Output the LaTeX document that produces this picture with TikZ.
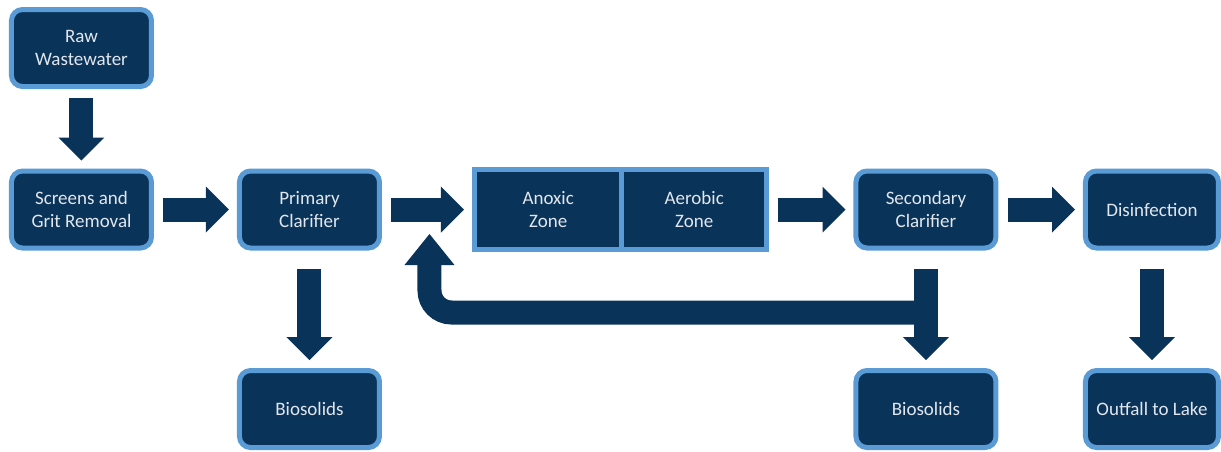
\documentclass[tikz,border=0pt]{standalone}
\usepackage{fontspec}
\setmainfont{Carlito}
\usetikzlibrary{matrix, arrows.meta, positioning}

\definecolor{navy}{RGB}{10,51,89}
\definecolor{rim}{RGB}{91,155,213}
\definecolor{label}{RGB}{226,231,237}

\begin{document}
\begin{tikzpicture}[
  stage/.style = {draw=rim, fill=navy, line width=5pt, rounded corners=11pt,
    minimum width=140pt, minimum height=77pt, inner sep=0pt, outer sep=2.5pt,
    text=label, align=center, font=\fontsize{19pt}{23.5pt}\selectfont},
  zone/.style = {stage, rounded corners=0pt, minimum height=80pt},
  flow/.style = {draw=navy, line width=24pt, shorten <=9pt, shorten >=8pt,
    -{Triangle[length=23pt, width=46pt, line width=0pt]}},
  ]
\matrix (m) [column sep=83pt, row sep=78pt, inner sep=0pt, outer sep=0pt]{
\node[stage](raw){Raw\\Wastewater}; & &[7pt] &[146pt] &[1.5pt] \\
\node[stage](screens){Screens and\\Grit Removal}; &
\node[stage](primary){Primary\\Clarifier}; &[7pt]
\node[zone, minimum width=147.5pt](anoxic){Anoxic\\Zone}; &[146pt]
\node[stage](secondary){Secondary\\Clarifier}; &[1.5pt]
\node[stage, minimum width=133pt](disinfection){Disinfection}; \\[38pt]
& \node[stage](solids1){Biosolids}; &[7pt] &[146pt] \node[stage](solids2){Biosolids}; &[1.5pt] \node[stage, minimum width=133pt](outfall){Outfall to Lake}; \\
};
\node[zone, minimum width=144.5pt, right=-5pt of anoxic] (aerobic) {Aerobic\\Zone};

\useasboundingbox ([xshift=-9pt, yshift=7pt]raw.north west) rectangle ([yshift=-1pt]outfall.south east);

% main line
\draw[flow] (raw) -- (screens);
\draw[flow] (screens) -- (primary);
\draw[flow] (primary) -- (anoxic);
\draw[flow] (aerobic) -- (secondary);
\draw[flow] (secondary) -- (disinfection);

% return sludge
\draw[flow, shorten <=0pt, shorten >=0pt, rounded corners=22pt,
  -{Triangle[length=31pt, width=50pt, line width=0pt]}]
  ([yshift=-62pt]secondary.south) -| ([xshift=47.5pt, yshift=18pt]primary.east |- anoxic.south);

% to the bottom row
\draw[flow, shorten <=18pt] (primary) -- (solids1);
\draw[flow, shorten <=18pt] (secondary) -- (solids2);
\draw[flow, shorten <=18pt] (disinfection) -- (outfall);
\end{tikzpicture}
\end{document}
